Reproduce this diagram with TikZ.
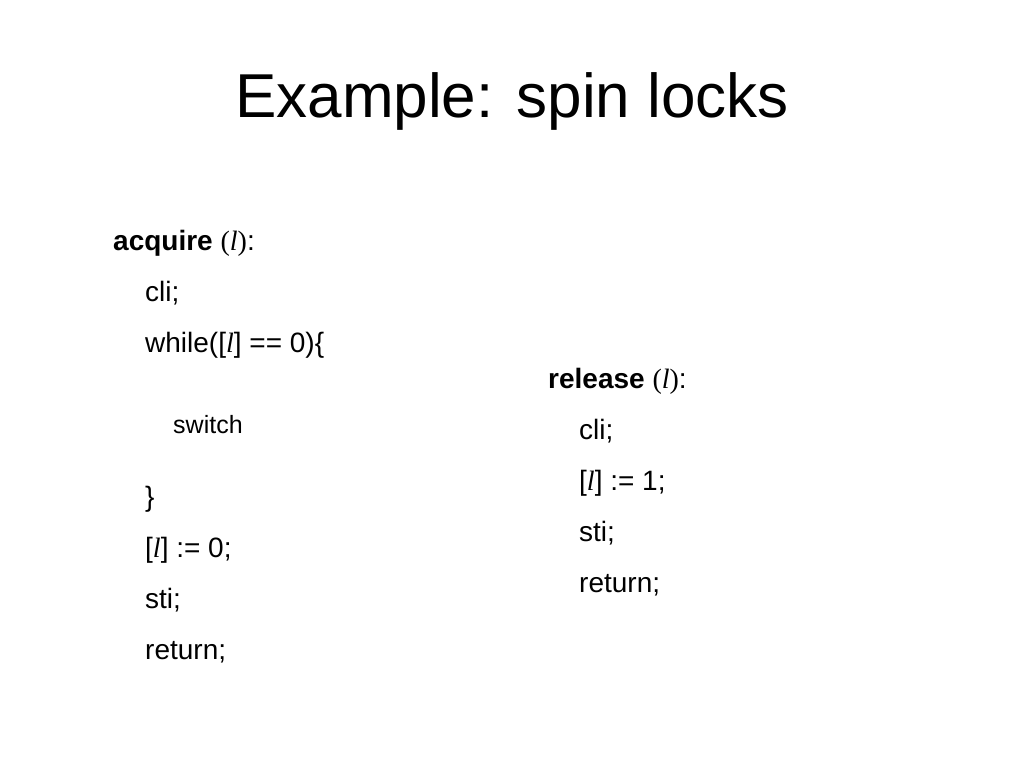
\documentclass[tikz,border=0pt]{standalone}
\usepackage{fontspec}
\setmainfont{Liberation Sans}
\newfontfamily\lockfont{Liberation Serif}
\usepackage{tikz}
\newcommand{\lk}{{\lockfont\itshape l}}
\tikzstyle{title} = [anchor=base, inner sep=0pt, font=\fontsize{62}{70}\selectfont]
\tikzstyle{code} = [anchor=base west, inner sep=0pt, font=\fontsize{28}{33}\selectfont]
\tikzstyle{small} = [anchor=base west, inner sep=0pt, font=\fontsize{25}{30}\selectfont]

\begin{document}
\begin{tikzpicture}[x=1pt, y=-1pt]
            \useasboundingbox (0,0) rectangle (1024,768);
            \node (head) [title] at (512,117) {Example: spin locks};
            % acquire
            \node (acq) [code] at (113,250) {\textbf{acquire} {\lockfont(\textit{l})}:};
            \node (acq1) [code] at (145,301) {cli;};
            \node (acq2) [code] at (145,352) {while([\lk] == 0)\{};
            \node (acq3) [small] at (173,433) {switch};
            \node (acq4) [code] at (145,506) {\}};
            \node (acq5) [code] at (145,557) {[\lk] := 0;};
            \node (acq6) [code] at (145,608) {sti;};
            \node (acq7) [code] at (145,659) {return;};
            % release
            \node (rel) [code] at (548,388) {\textbf{release} {\lockfont(\textit{l})}:};
            \node (rel1) [code] at (579,439) {cli;};
            \node (rel2) [code] at (579,490) {[\lk] := 1;};
            \node (rel3) [code] at (579,541) {sti;};
            \node (rel4) [code] at (579,592) {return;};
            \end{tikzpicture}
\end{document}
